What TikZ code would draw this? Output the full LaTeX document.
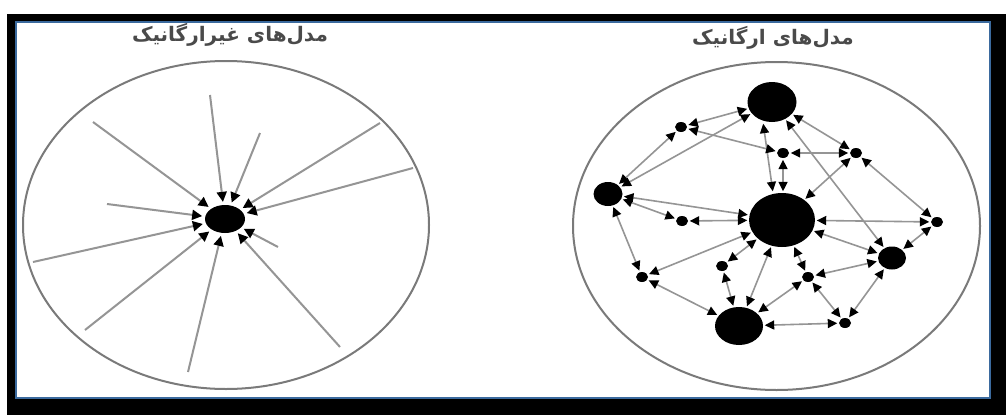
\documentclass[tikz,border=0pt]{standalone}
\usepackage{fontspec}
\newfontfamily\arabicfont[Script=Arabic]{DejaVu Sans}
\TeXXeTstate=1
\usetikzlibrary{arrows.meta,shapes.geometric}
\definecolor{linegray}{HTML}{959595}
\definecolor{ringgray}{HTML}{7A7A7A}
\definecolor{titlegray}{HTML}{4A4A4A}
\definecolor{frameblue}{HTML}{3B6A9E}
\tikzset{
  blob/.style={ellipse, fill=black, inner sep=0pt},
  sm/.style={blob, minimum width=12pt, minimum height=10pt},
  ring/.style={draw=ringgray, line width=2pt},
  spoke/.style={draw=linegray, line width=2pt, -{Triangle[length=10pt,width=10pt,color=black]}, shorten >=3pt},
  link/.style={draw=linegray, line width=1.6pt, {Triangle[length=9.5pt,width=9pt,color=black]}-{Triangle[length=9.5pt,width=9pt,color=black]}, shorten <=1.5pt, shorten >=1.5pt},
  title/.style={text=titlegray, font=\arabicfont\bfseries\fontsize{20}{24}\selectfont, inner sep=0pt}
}
\begin{document}
\begin{tikzpicture}[x=1pt,y=-1pt]
\useasboundingbox (0,0) rectangle (1006,415);
% frame
\fill[black] (7,14) rectangle (1006,415);
\fill[frameblue] (15,21) rectangle (991,399);
\fill[white] (17,23) rectangle (989,397);

% titles
\node[title] (t1) at (230,35) {\beginR مدل‌های غیرارگانیک\endR};
\node[title] (t2) at (773,38) {\beginR مدل‌های ارگانیک\endR};

% ===== left: inorganic =====
\node[ring, ellipse, minimum width=406pt, minimum height=328pt, inner sep=0pt] (e1) at (226,225) {};
\node[blob, minimum width=40pt, minimum height=28pt] (c) at (225,219) {};
\coordinate (p1) at (93,122);
\coordinate (p2) at (210,95);
\coordinate (p3) at (260,133);
\coordinate (p4) at (380,123);
\coordinate (p5) at (413,168);
\coordinate (p6) at (278,247);
\coordinate (p7) at (340,347);
\coordinate (p8) at (188,372);
\coordinate (p9) at (85,330);
\coordinate (p10) at (33,262);
\coordinate (p11) at (107,204);
\foreach \p in {p1,p2,p3,p4,p5,p6,p7,p8,p9,p10,p11}
  \draw[spoke] (\p) -- (c);

% ===== right: organic =====
\node[ring, ellipse, minimum width=407pt, minimum height=328pt, inner sep=0pt] (e2) at (776.5,226) {};
\node[blob, minimum width=49pt, minimum height=40pt] (A) at (772,102) {};
\node[blob, minimum width=66pt, minimum height=54pt] (B) at (782,220) {};
\node[blob, minimum width=48pt, minimum height=38pt] (C) at (739,326) {};
\node[blob, minimum width=29pt, minimum height=24pt] (D) at (608,194) {};
\node[blob, minimum width=28pt, minimum height=23pt] (E) at (892,258) {};
\node[sm] (s1) at (681,127) {};
\node[sm] (s2) at (783,153) {};
\node[sm] (s3) at (856,153) {};
\node[sm] (s4) at (682,221) {};
\node[sm] (s5) at (937,222) {};
\node[sm] (s6) at (642,277) {};
\node[sm] (s7) at (722,266) {};
\node[sm] (s8) at (808,277) {};
\node[sm] (s9) at (845,323) {};

\draw[link] (A) -- (s1);
\draw[link] (A) -- (D);
\draw[link] ([xshift=-9pt]A.south) -- ([xshift=-9pt]B.north);
\draw[link] (A) -- (s3);
\draw[link] (A) -- (E);
\draw[link] (s1) -- (D);
\draw[link] (s1) -- (s2);
\draw[link] (s2) -- (s3);
\draw[link] (s2) -- (s2 |- B.north);
\draw[link] (s3) -- (B);
\draw[link] (s3) -- (s5);
\draw[link] (D) -- (B);
\draw[link] (D) -- (s4);
\draw[link] (D) -- (s6);
\draw[link] (s4) -- (B);
\draw[link] (s5) -- (B);
\draw[link] (s5) -- (E);
\draw[link] (E) -- (B);
\draw[link] (E) -- (s8);
\draw[link] (E) -- (s9);
\draw[link] (s6) -- (B);
\draw[link] (s6) -- (C);
\draw[link] (s7) -- (B);
\draw[link] (s7) -- (C);
\draw[link] (s8) -- (B);
\draw[link] (s8) -- (C);
\draw[link] (s8) -- (s9);
\draw[link] (C) -- (B);
\draw[link] (C) -- (s9);
\end{tikzpicture}
\end{document}
